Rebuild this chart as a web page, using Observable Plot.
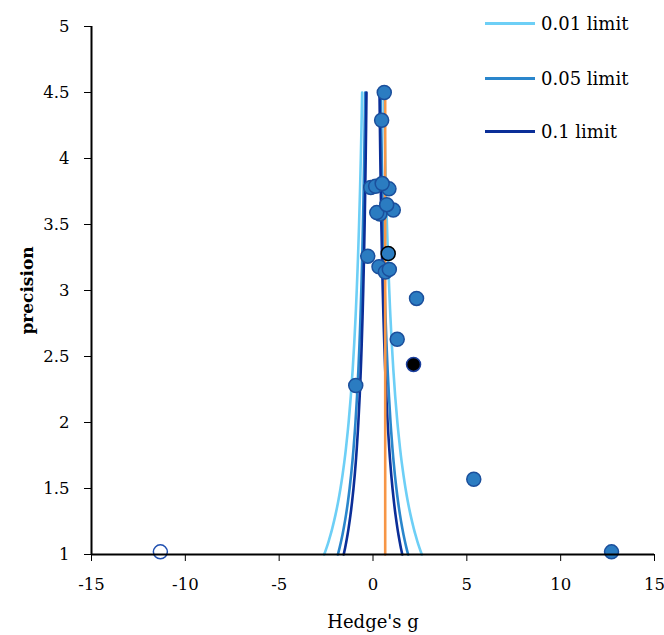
<!DOCTYPE html>
<html>
<head>
<meta charset="utf-8">
<script src="https://cdn.jsdelivr.net/npm/d3@7"></script>
<script src="https://cdn.jsdelivr.net/npm/@observablehq/plot@0.6"></script>
<style>
  html, body { margin: 0; padding: 0; background: #fff; }
  #wrap { position: relative; width: 664px; height: 635px; }
  #wrap svg { overflow: visible; }
  #legend { position: absolute; left: 485px; top: 0; font-family: "DejaVu Serif", serif; font-size: 18px; color: #000; }
  .row { position: absolute; left: 0; display: flex; align-items: center; white-space: nowrap; }
  .sw { width: 50px; height: 3px; margin-right: 6px; }
</style>
</head>
<body>
<div id="wrap"><div id="legend"></div></div>
<script>
// Study points (Hedge's g vs precision)
const hedgesG  = [0.37, 0.20, 1.08, -0.12, 0.14, 0.85, 0.49, 0.73, 0.60, 0.46, -0.28, 0.81, 0.32, 0.66, 0.87, 2.32, 1.29, 2.16, -0.92, 5.37, 12.71, -11.33];
const precision = [3.58, 3.59, 3.61, 3.78, 3.79, 3.77, 3.81, 3.65, 4.50, 4.29, 3.26, 3.28, 3.18, 3.14, 3.16, 2.94, 2.63, 2.44, 2.28, 1.57, 1.02, 1.02];
const pointKind = ["study","study","study","study","study","study","study","study","study","study","study","edge","study","study","study","study","study","black","study","study","study","open"];

// Funnel
const pooledEstimate = 0.65;
const funnelCenter = 0;
const limitNames = ["0.01 limit", "0.05 limit", "0.1 limit"];
const limitZ = [2.6, 1.87, 1.56];
const limitColors = ["#6dcff6", "#2a86cc", "#0b2e98"];
const precisionGrid = [1, 1.05, 1.1, 1.15, 1.2, 1.3, 1.4, 1.5, 1.6, 1.7, 1.8, 2, 2.2, 2.4, 2.6, 2.8, 3, 3.25, 3.5, 3.75, 4, 4.25, 4.5];

const xTicks = [-15, -10, -5, 0, 5, 10, 15];
const yTicks = [1, 1.5, 2, 2.5, 3, 3.5, 4, 4.5, 5];

const points = hedgesG.map((g, i) => ({g, p: precision[i], kind: pointKind[i]}));
const funnel = [];
limitNames.forEach((name, k) => {
  for (const side of [-1, 1]) {
    for (const p of precisionGrid) funnel.push({limit: name, side: name + side, g: funnelCenter + side * limitZ[k] / p, p});
  }
});
const pooled = [{g: pooledEstimate, p: 1}, {g: pooledEstimate, p: 4.5}];

const fillOf = {study: "#2b7cc1", edge: "#2b7cc1", black: "#000000", open: "#ffffff"};
const strokeOf = {study: "#1b4f9c", edge: "#000000", black: "#1b3f9e", open: "#1f4fb0"};

const chart = Plot.plot({
  width: 664,
  height: 635,
  marginLeft: 91,
  marginRight: 10,
  marginTop: 26,
  marginBottom: 81,
  style: {fontFamily: "DejaVu Serif", fontSize: "16px", color: "#000", background: "#fff", overflow: "visible"},
  x: {domain: [-15, 15]},
  y: {domain: [1, 5]},
  color: {domain: limitNames, range: limitColors},
  marks: [
    Plot.line(funnel, {x: "g", y: "p", z: "side", stroke: "limit", strokeWidth: 2.6, curve: "catmull-rom"}),
    Plot.line(pooled, {x: "g", y: "p", stroke: "#f79646", strokeWidth: 2.6}),
    Plot.dot(points, {x: "g", y: "p", r: 7, fill: d => fillOf[d.kind], stroke: d => strokeOf[d.kind], strokeWidth: 1.5}),
    Plot.ruleY([1], {stroke: "#000", strokeWidth: 2}),
    Plot.ruleX([-15], {stroke: "#000", strokeWidth: 2}),
    Plot.axisX({ticks: xTicks, tickSize: 7, tickPadding: 17, tickFormat: d => String(d), label: null, fontSize: 16.5}),
    Plot.axisY({ticks: yTicks, tickSize: 7, tickPadding: 15, tickFormat: d => String(d), label: null, fontSize: 16.5}),
    Plot.text(["Hedge's g"], {frameAnchor: "bottom", dy: 68, lineAnchor: "middle", textAnchor: "middle", fontSize: 18}),
    Plot.text(["precision"], {frameAnchor: "left", dx: -64, rotate: -90, textAnchor: "middle", lineAnchor: "middle", fontSize: 17, fontWeight: "bold"})
  ]
});
document.getElementById("wrap").prepend(chart);

const legend = document.getElementById("legend");
const rowTops = [11, 66, 119];
limitNames.forEach((name, k) => {
  const row = document.createElement("div");
  row.className = "row";
  row.style.top = rowTops[k] + "px";
  row.style.height = "24px";
  const sw = document.createElement("div");
  sw.className = "sw";
  sw.style.background = limitColors[k];
  const t = document.createElement("span");
  t.textContent = name;
  row.appendChild(sw);
  row.appendChild(t);
  legend.appendChild(row);
});
</script>
</body>
</html>
